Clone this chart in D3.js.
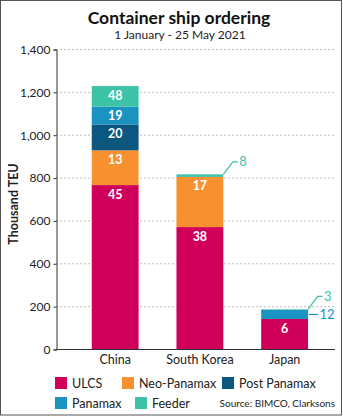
<!DOCTYPE html>
<html lang="en">
<head>
<meta charset="UTF-8"/>
<title>Container ship ordering</title>
<script src="https://d3js.org/d3.v7.min.js"></script>
<style>
	body { margin: 0; background: #fff; }
	svg { display: block; font-family: Lato, "Open Sans", sans-serif; }
</style>
</head>
<body>
<script>

	var w = 343;
	var h = 417;

	// shipyard countries
	var countries = ["China", "South Korea", "Japan"];

	// ship types, bottom of the stack first
	var types = ["ULCS", "Neo-Panamax", "Post Panamax", "Panamax", "Feeder"];
	var colours = ["#d0005a", "#f7912f", "#0b5780", "#1a92c2", "#3cc2a6"];

	// capacity ordered, thousand TEU
	var ulcsTeu = [765, 569, 140];
	var neoTeu = [162, 234, 0];
	var postTeu = [121, 0, 0];
	var panamaxTeu = [83, 0, 42];
	var feederTeu = [96, 12, 3];

	// number of ships ordered (the figures written on the bars)
	var ulcsShips = [45, 38, 6];
	var neoShips = [13, 17, 0];
	var postShips = [20, 0, 0];
	var panamaxShips = [19, 0, 12];
	var feederShips = [48, 8, 3];

	var yTicks = [0, 200, 400, 600, 800, 1000, 1200, 1400];

	var teu = [ulcsTeu, neoTeu, postTeu, panamaxTeu, feederTeu];
	var ships = [ulcsShips, neoShips, postShips, panamaxShips, feederShips];

	// one row per country for d3.stack
	var table = countries.map(function(c, i){
		var row = {country: c};
		types.forEach(function(t, k){ row[t] = teu[k][i]; });
		return row;
	});
	var series = d3.stack().keys(types)(table);

	var plotLeft = 56, plotRight = 335, plotTop = 49, plotBottom = 349;

	var xScale = d3.scaleBand()
		.domain(countries)
		.range([plotLeft, plotRight])
		.paddingInner(0.447)
		.paddingOuter(0.37)
		.align(0.57);

	var yScale = d3.scaleLinear()
		.domain([0, 1400])
		.range([plotBottom, plotTop]);

	var svg = d3.select("body")
		.append("svg")
		.attr("width", w)
		.attr("height", h);

	// frame
	svg.append("rect")
		.attr("x", 0.5).attr("y", 0.5)
		.attr("width", 341).attr("height", 414.5)
		.attr("fill", "#fff")
		.attr("stroke", "#555");

	// titles
	svg.append("text")
		.attr("x", 179).attr("y", 24)
		.attr("text-anchor", "middle")
		.attr("font-size", 17.5).attr("font-weight", "bold")
		.attr("fill", "#111")
		.text("Container ship ordering");
	svg.append("text")
		.attr("x", 180).attr("y", 38.5)
		.attr("text-anchor", "middle")
		.attr("font-size", 12)
		.attr("fill", "#222")
		.text("1 January - 25 May 2021");

	// dotted gridlines
	svg.append("g")
		.selectAll("line")
		.data(yTicks.slice(1))
		.enter()
		.append("line")
		.attr("x1", plotLeft).attr("x2", plotRight)
		.attr("y1", function(d){ return yScale(d) + 0.5; })
		.attr("y2", function(d){ return yScale(d) + 0.5; })
		.attr("stroke", "#bdbdbd")
		.attr("stroke-dasharray", "2,2");

	//draw the stacked bars
	var layer = svg.append("g")
		.selectAll("g")
		.data(series)
		.enter()
		.append("g")
		.attr("fill", function(d, k){ return colours[k]; });

	layer.selectAll("rect")
		.data(function(d){ return d; })
		.enter()
		.append("rect")
		.attr("x", function(d){ return xScale(d.data.country); })
		.attr("y", function(d){ return yScale(d[1]); })
		.attr("width", xScale.bandwidth())
		.attr("height", function(d){ return yScale(d[0]) - yScale(d[1]); });

	// ship counts written inside the taller segments
	series.forEach(function(s, k){
		s.forEach(function(d, i){
			var hgt = yScale(d[0]) - yScale(d[1]);
			if (hgt < 15) return;
			svg.append("text")
				.attr("x", xScale(d.data.country) + xScale.bandwidth() / 2)
				.attr("y", yScale(d[1]) + 13.5)
				.attr("text-anchor", "middle")
				.attr("font-size", 12.5).attr("font-weight", "bold")
				.attr("fill", "#fff")
				.text(ships[k][i]);
		});
	});

	// small segments get a label outside with a leader line
	function callout(k, i, dx, dy, bend){
		var s = series[k][i];
		var x0 = xScale(countries[i]) + xScale.bandwidth();
		var y0 = yScale(s[1]);
		var ym = (yScale(s[0]) + yScale(s[1])) / 2;
		var pts = bend
			? [[x0, y0], [x0 + dx, y0 + dy], [x0 + dx + 5, y0 + dy]]
			: [[x0 + 1, ym], [x0 + 10, ym]];
		svg.append("path")
			.attr("d", d3.line()(pts))
			.attr("fill", "none")
			.attr("stroke", colours[k])
			.attr("stroke-width", 1.2);
		var end = pts[pts.length - 1];
		svg.append("text")
			.attr("x", end[0] + 1.5)
			.attr("y", end[1] + 4.5)
			.attr("font-size", 13)
			.attr("fill", colours[k])
			.text(ships[k][i]);
	}
	callout(4, 1, 9.5, -12.5, true);
	callout(4, 2, 9.5, -13, true);
	callout(3, 2, 0, 0, false);

	//call y-Axis
	var yAxis = d3.axisLeft(yScale)
		.tickValues(yTicks)
		.tickSize(3)
		.tickPadding(3)
		.tickFormat(d3.format(","));
	var gy = svg.append("g")
		.attr("transform", "translate(" + (plotLeft + 0.5) + ",0.5)")
		.call(yAxis);
	gy.selectAll("text").attr("font-size", 12).attr("fill", "#222").attr("font-family", "Lato, sans-serif");
	gy.selectAll("line, path").attr("stroke", "#333");

	// baseline
	svg.append("line")
		.attr("x1", plotLeft).attr("x2", plotRight)
		.attr("y1", plotBottom + 0.5).attr("y2", plotBottom + 0.5)
		.attr("stroke", "#333");

	// category labels
	svg.append("g")
		.selectAll("text")
		.data(countries)
		.enter()
		.append("text")
		.attr("x", function(d){ return xScale(d) + xScale.bandwidth() / 2; })
		.attr("y", 364)
		.attr("text-anchor", "middle")
		.attr("font-size", 12.5)
		.attr("fill", "#222")
		.text(function(d){ return d; });

	//y-axis label
	svg.append("text")
		.attr("transform", "rotate(-90)")
		.attr("x", -204)
		.attr("y", 17.5)
		.attr("text-anchor", "middle")
		.attr("font-size", 12.5).attr("font-weight", "bold")
		.attr("fill", "#222")
		.text("Thousand TEU");

	// legend
	var legendPos = [[55, 377], [122, 377], [222, 377], [55, 397], [135, 397]];
	var legend = svg.append("g")
		.selectAll("g")
		.data(types)
		.enter()
		.append("g")
		.attr("transform", function(d, k){ return "translate(" + legendPos[k][0] + "," + legendPos[k][1] + ")"; });
	legend.append("rect")
		.attr("width", 12).attr("height", 12)
		.attr("fill", function(d, k){ return colours[k]; });
	legend.append("text")
		.attr("x", 17).attr("y", 11)
		.attr("font-size", 12.5)
		.attr("fill", "#222")
		.text(function(d){ return d; });

	svg.append("text")
		.attr("x", 335).attr("y", 407)
		.attr("text-anchor", "end")
		.attr("font-size", 10)
		.attr("fill", "#222")
		.text("Source: BIMCO, Clarksons");

</script>
</body>
</html>
